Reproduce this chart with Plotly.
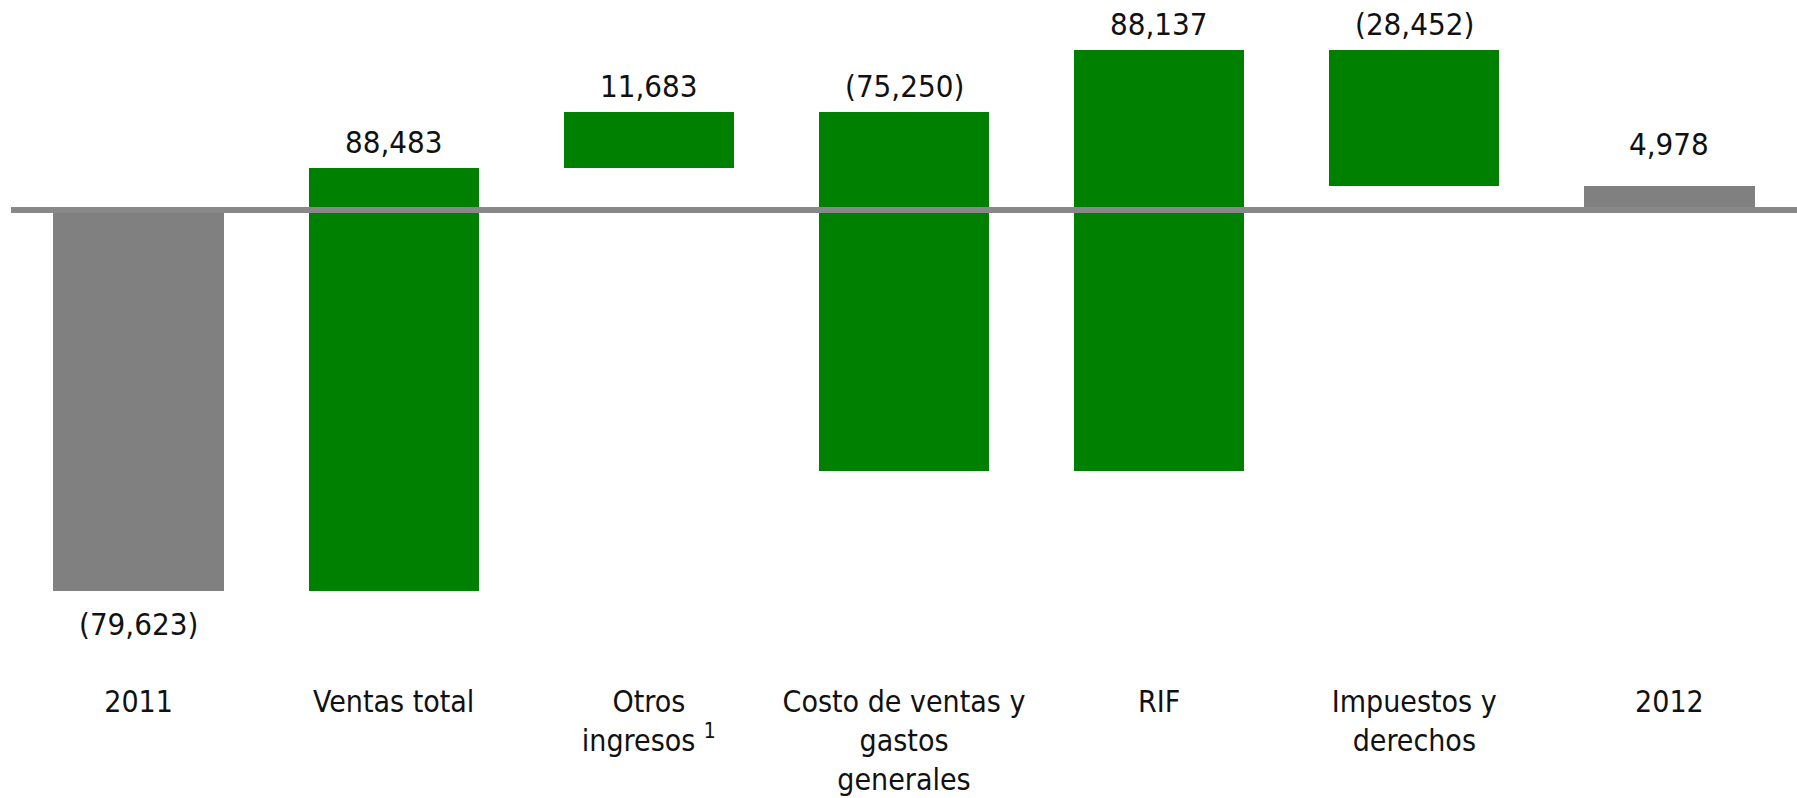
import plotly.graph_objects as go

# Waterfall: 2011 result -> 2012 result (millones de pesos)
categories = [
    "2011",
    "Ventas total",
    "Otros<br>ingresos <sup>1</sup>",
    "Costo de ventas y<br>gastos<br>generales",
    "RIF",
    "Impuestos y<br>derechos",
    "2012",
]
values = [-79623, 88483, 11683, -75250, 88137, -28452, 4978]
kinds = ["total", "delta", "delta", "delta", "delta", "delta", "total"]

GREEN = "#008000"
GREY = "#808080"
FONT = "DejaVu Sans Condensed, Liberation Sans Narrow, DejaVu Sans, sans-serif"
TXT = "#111111"

# floating bar bases from the running total
bases = []
running = 0
for v, k in zip(values, kinds):
    if k == "total":
        bases.append(0)
        running = v
    else:
        bases.append(running)
        running += v

colors = [GREY if k == "total" else GREEN for k in kinds]


def fmt(v):
    s = f"{abs(v):,}"
    return f"({s})" if v < 0 else s


fig = go.Figure()
fig.add_trace(go.Bar(
    x=list(range(len(categories))),
    y=values,
    base=bases,
    width=0.667,
    marker=dict(color=colors, line=dict(width=0)),
    hoverinfo="skip",
))

annotations = []
for i, (v, b, k) in enumerate(zip(values, bases, kinds)):
    top = max(b, b + v)
    bottom = min(b, b + v)
    if k == "total" and v < 0:
        annotations.append(dict(x=i, y=bottom, xref="x", yref="y", text=fmt(v),
                                showarrow=False, yanchor="top", yshift=-13,
                                font=dict(family=FONT, size=31, color=TXT)))
    else:
        shift = 22 if k == "total" else 6
        annotations.append(dict(x=i, y=top, xref="x", yref="y", text=fmt(v),
                                showarrow=False, yanchor="bottom", yshift=shift,
                                font=dict(family=FONT, size=31, color=TXT)))

fig.update_layout(
    width=1797,
    height=798,
    margin=dict(l=11, r=0, t=0, b=117, autoexpand=False),
    paper_bgcolor="white",
    plot_bgcolor="white",
    showlegend=False,
    bargap=0,
    annotations=annotations,
    shapes=[dict(type="line", xref="paper", yref="y", x0=0, x1=1, y0=0, y1=0,
                 line=dict(color="#888888", width=6), layer="above")],
    xaxis=dict(
        tickmode="array",
        tickvals=list(range(len(categories))),
        ticktext=categories,
        range=[-0.5, len(categories) - 0.5],
        showgrid=False,
        showline=False,
        zeroline=False,
        ticks="",
        automargin=False,
        tickfont=dict(family=FONT, size=30, color=TXT),
        fixedrange=True,
    ),
    yaxis=dict(
        range=[-98560, 43940],
        showgrid=False,
        showline=False,
        zeroline=False,
        showticklabels=False,
        ticks="",
        automargin=False,
        fixedrange=True,
    ),
)

fig.write_html("out.html")
